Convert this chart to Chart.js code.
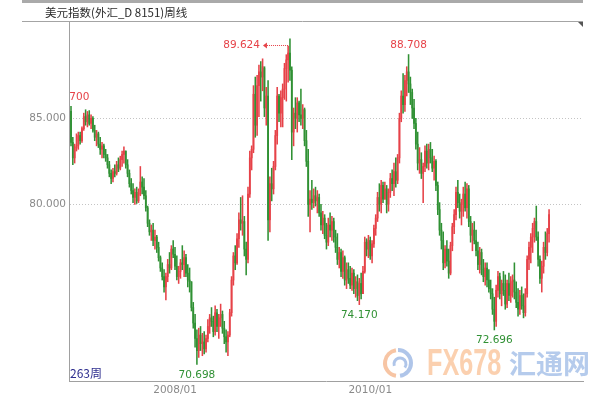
<!DOCTYPE html>
<html>
<head>
<meta charset="utf-8">
<script src="https://cdn.jsdelivr.net/npm/chart.js@4.4.1/dist/chart.umd.min.js"></script>
<style>
  html, body { margin: 0; padding: 0; background: #fff; }
  #wrap { width: 608px; height: 400px; }
</style>
</head>
<body>
<div id="wrap"><canvas id="dxy" width="608" height="400"></canvas></div>
<script>
// 美元指数 周线 — 263 weeks, opens taken as the previous week's close
const title = '美元指数(外汇_D 8151)周线';
const firstOpen = 85.40;

const highs = [
  85.70, 83.90, 83.50, 84.10, 84.20, 84.20, 84.50, 85.30, 85.50, 85.40,
  85.45, 85.20, 85.10, 84.60, 84.30, 84.20, 83.90, 83.60, 83.50, 83.20,
  82.90, 82.50, 82.00, 82.10, 82.30, 82.50, 82.70, 82.80, 83.10, 83.35,
  83.10, 82.60, 82.00, 81.50, 81.20, 80.90, 81.00, 80.90, 82.20, 81.60,
  81.50, 80.80, 79.90, 79.10, 78.80, 78.90, 78.50, 78.20, 77.80, 77.00,
  76.60, 76.20, 76.00, 76.80, 77.20, 77.60, 77.90, 77.50, 77.00, 76.40,
  76.80, 77.60, 77.30, 77.10, 76.50, 76.30, 75.50, 74.30, 73.60, 72.70,
  72.80, 72.90, 72.50, 72.60, 72.40, 73.30, 73.60, 74.00, 73.50, 74.10,
  73.90, 73.60, 74.20, 73.80, 73.20, 72.70, 72.60, 73.90, 75.80, 77.20,
  77.60, 78.30, 79.50, 80.40, 80.50, 79.30, 77.80, 81.00, 83.10, 83.40,
  86.90, 87.40, 87.50, 88.10, 88.30, 88.46, 87.90, 86.80, 87.20, 81.60,
  82.10, 82.50, 84.30, 86.80, 86.40, 86.60, 87.00, 88.20, 88.70, 89.20,
  89.624, 88.00, 85.60, 86.20, 86.20, 86.00, 86.70, 85.80, 85.60, 84.30,
  83.20, 80.80, 81.40, 80.90, 81.00, 80.80, 80.60, 80.00, 79.60, 79.40,
  78.90, 79.20, 79.50, 79.30, 79.20, 78.50, 78.30, 77.50, 77.40, 77.30,
  77.00, 76.60, 76.60, 76.40, 76.30, 76.20, 75.80, 75.90, 75.70, 76.00,
  76.40, 78.10, 78.00, 78.20, 78.10, 77.90, 78.80, 79.40, 80.70, 81.20,
  81.40, 81.30, 81.30, 81.10, 80.90, 81.80, 82.00, 82.40, 82.70, 82.90,
  85.30, 86.60, 87.60, 87.50, 88.00, 88.708, 87.40, 86.70, 86.10, 85.00,
  84.20, 83.30, 83.00, 82.40, 83.40, 83.50, 83.50, 83.60, 83.20, 82.80,
  82.60, 81.30, 80.10, 78.90, 78.40, 77.60, 77.90, 77.40, 77.80, 78.90,
  79.70, 81.00, 81.40, 80.60, 80.30, 81.00, 81.30, 81.20, 81.10, 79.30,
  78.90, 79.00, 78.50, 77.80, 77.50, 77.40, 76.80, 76.60, 76.60, 76.20,
  75.60, 75.10, 74.60, 75.30, 76.10, 76.00, 75.60, 76.10, 75.90, 75.60,
  76.00, 75.80, 75.90, 76.60, 75.50, 75.10, 75.00, 75.20, 74.80, 75.10,
  77.00, 77.80, 78.30, 78.90, 79.20, 79.90, 78.40, 77.00, 76.70, 77.80,
  78.40, 78.60, 79.70
];

const lows = [
  83.40, 82.30, 82.40, 83.10, 83.20, 83.50, 83.60, 84.30, 84.60, 84.50,
  84.60, 84.40, 84.20, 83.70, 83.40, 83.30, 82.90, 82.70, 82.70, 82.50,
  82.10, 81.60, 81.20, 81.30, 81.60, 81.70, 81.90, 82.00, 82.20, 82.40,
  82.10, 81.60, 81.00, 80.60, 80.10, 80.00, 80.05, 80.10, 80.50, 80.60,
  80.30, 79.60, 78.70, 78.20, 77.90, 77.60, 77.40, 77.20, 76.70, 76.10,
  75.60, 74.90, 74.45, 75.50, 76.00, 76.20, 76.90, 76.20, 75.60, 75.40,
  75.70, 76.20, 75.80, 75.80, 75.20, 74.90, 73.80, 72.80, 71.70, 70.698,
  71.10, 71.50, 71.20, 71.30, 71.40, 72.00, 72.50, 72.90, 72.30, 72.40,
  72.60, 72.20, 72.90, 72.50, 71.90, 71.40, 71.20, 72.30, 73.50, 75.30,
  76.20, 76.50, 77.50, 78.50, 78.20, 77.00, 75.90, 76.60, 80.40, 82.00,
  83.00, 83.90, 84.00, 85.10, 86.00, 86.60, 85.10, 84.60, 77.90, 78.40,
  80.20, 80.60, 82.00, 83.50, 84.80, 84.50, 84.50, 86.10, 86.00, 87.10,
  87.20, 82.60, 83.40, 84.40, 84.20, 84.80, 84.60, 84.40, 83.40, 82.20,
  79.30, 78.40, 79.70, 79.80, 79.90, 79.50, 79.30, 78.50, 78.30, 78.00,
  77.40, 77.60, 78.10, 77.90, 77.80, 77.20, 76.50, 76.30, 75.80, 75.70,
  75.30, 75.10, 75.40, 75.10, 75.00, 74.80, 74.60, 74.40, 74.17, 74.50,
  74.80, 76.00, 77.00, 76.90, 76.80, 76.60, 77.50, 78.20, 79.00, 79.60,
  79.50, 80.10, 80.30, 79.50, 79.60, 80.40, 80.80, 80.50, 81.00, 81.20,
  82.40, 84.80, 85.30, 85.40, 86.30, 86.50, 85.80, 85.00, 84.40, 83.20,
  82.00, 81.80, 81.50, 80.10, 81.90, 82.10, 82.00, 82.40, 81.90, 81.40,
  80.80, 79.40, 78.20, 77.40, 76.20, 76.30, 76.40, 75.70, 75.90, 77.30,
  78.30, 79.10, 79.80, 79.20, 78.80, 79.30, 79.60, 79.20, 78.70, 77.80,
  77.30, 77.70, 77.00, 76.20, 76.00, 75.90, 75.50, 75.30, 75.20, 74.90,
  74.50, 73.60, 72.696, 72.90, 74.60, 74.50, 74.10, 74.70, 73.90, 74.00,
  74.40, 74.30, 74.60, 74.50, 74.00, 73.50, 73.60, 73.90, 73.40, 73.50,
  74.60, 76.20, 76.60, 77.20, 77.80, 77.90, 76.40, 75.40, 74.90, 76.00,
  76.80, 77.00, 77.80
];

const closes = [
  83.60, 82.70, 83.30, 83.40, 84.00, 83.70, 84.40, 85.10, 84.80, 85.20,
  84.70, 85.00, 84.30, 83.90, 84.10, 83.50, 83.20, 83.40, 82.90, 82.70,
  82.30, 81.80, 81.50, 81.90, 81.80, 82.30, 82.10, 82.60, 82.90, 83.10,
  82.30, 81.80, 81.20, 80.80, 80.40, 80.70, 80.20, 80.60, 81.30, 81.00,
  80.50, 79.80, 78.90, 78.40, 78.50, 77.90, 78.10, 77.50, 76.90, 76.30,
  75.80, 75.20, 75.80, 76.50, 76.30, 77.40, 77.10, 76.40, 75.80, 76.10,
  76.60, 76.50, 76.90, 76.00, 75.60, 75.50, 74.00, 73.10, 72.20, 71.50,
  72.40, 71.90, 72.00, 71.60, 72.20, 72.90, 73.40, 73.20, 72.60, 73.70,
  72.90, 73.40, 73.60, 72.80, 72.30, 72.00, 72.40, 73.70, 75.60, 77.00,
  76.60, 78.00, 79.10, 78.90, 79.00, 77.40, 76.80, 80.60, 82.70, 83.20,
  86.40, 84.60, 86.90, 87.70, 87.40, 88.00, 85.60, 86.30, 79.10, 81.20,
  80.90, 82.20, 84.00, 86.30, 85.30, 86.20, 86.70, 87.90, 88.40, 88.80,
  87.80, 84.20, 85.30, 85.00, 85.90, 85.20, 85.00, 85.50, 83.70, 82.50,
  80.00, 80.30, 80.10, 80.50, 80.20, 80.40, 79.50, 78.80, 79.20, 78.20,
  77.80, 78.80, 78.50, 79.00, 78.10, 77.50, 76.80, 77.20, 76.10, 76.90,
  75.60, 76.20, 75.70, 75.30, 76.00, 75.10, 75.50, 74.70, 75.40, 74.80,
  76.10, 77.80, 77.40, 77.90, 77.00, 77.70, 78.60, 79.20, 80.40, 80.00,
  81.10, 80.30, 80.90, 80.00, 80.70, 81.50, 81.20, 81.90, 81.40, 82.70,
  85.00, 86.30, 85.80, 87.20, 87.70, 87.00, 86.50, 85.60, 84.70, 83.50,
  82.40, 82.60, 81.80, 82.20, 83.10, 82.40, 83.20, 82.70, 82.10, 82.50,
  81.10, 79.70, 78.50, 77.90, 76.60, 77.40, 76.70, 76.00, 77.60, 78.70,
  79.40, 80.70, 80.10, 79.60, 80.00, 80.60, 79.80, 80.90, 79.00, 78.20,
  78.50, 77.90, 77.30, 76.50, 77.20, 76.20, 75.80, 76.30, 75.60, 75.10,
  74.80, 73.90, 73.20, 75.00, 75.80, 74.80, 75.40, 75.00, 74.20, 75.40,
  74.70, 75.50, 75.60, 74.90, 74.30, 73.90, 74.70, 74.10, 73.70, 74.80,
  76.80, 77.50, 78.10, 78.60, 79.00, 78.10, 76.80, 75.70, 76.40, 77.50,
  77.20, 78.30, 79.40
];

// x axis: week index of each dated tick
const tickIdx = [57, 164];
const tickText = ['2008/01', '2010/01'];
const yTicks = [80, 85];

// marked extremes
const highMarks = [0, 120, 185];
const lowMarks = [69, 158, 232];

const UP = 'rgb(230,66,72)';
const DOWN = 'rgb(48,145,52)';

const opens = closes.map((c, i) => (i === 0 ? firstOpen : closes[i - 1]));
const barColors = closes.map((c, i) => (c >= opens[i] ? UP : DOWN));
const wicks = highs.map((h, i) => ({ x: i, y: [lows[i], h] }));
const bodies = closes.map((c, i) => ({ x: i, y: [Math.min(opens[i], c), Math.max(opens[i], c)] }));

const decor = {
    id: 'decor',
    afterDraw(chart) {
        const { ctx, chartArea: a, scales: { x, y } } = chart;
        ctx.save();

        // header strip, title, underline
        ctx.fillStyle = '#aaaaaa';
        ctx.fillRect(22, 0, a.right - 22, 3);
        ctx.strokeStyle = '#a4a4a4';
        ctx.lineWidth = 1;
        ctx.beginPath();
        ctx.moveTo(22, 21.5);
        ctx.lineTo(a.right, 21.5);
        ctx.stroke();
        ctx.fillStyle = '#555';
        ctx.beginPath();
        ctx.moveTo(a.right - 5, 22);
        ctx.lineTo(a.right, 22);
        ctx.lineTo(a.right, 27);
        ctx.closePath();
        ctx.fill();
        ctx.font = '11.5px "Noto Sans CJK SC"';
        ctx.fillStyle = '#2b2b2b';
        ctx.textBaseline = 'middle';
        ctx.textAlign = 'left';
        ctx.fillText(title, 45, 13);

        // bar count
        ctx.font = '12px "Noto Sans CJK SC"';
        ctx.fillStyle = '#2c2c8e';
        ctx.fillText(highs.length + '周', a.left + 1, a.bottom - 8);

        // watermark
        ctx.globalAlpha = 0.55;
        ctx.lineWidth = 4;
        ctx.strokeStyle = 'rgb(240,150,90)';
        ctx.beginPath();
        ctx.arc(398, 363, 13, Math.PI * 0.55, Math.PI * 1.45);
        ctx.stroke();
        ctx.strokeStyle = 'rgb(110,150,215)';
        ctx.beginPath();
        ctx.arc(398, 363, 13, Math.PI * 1.5, Math.PI * 2.45);
        ctx.stroke();
        ctx.lineWidth = 3;
        ctx.beginPath();
        ctx.arc(400, 364, 6, Math.PI * 0.9, Math.PI * 2.2);
        ctx.stroke();
        ctx.save();
        ctx.translate(427, 364);
        ctx.scale(0.7, 1);
        ctx.font = 'bold 36px "Liberation Sans"';
        ctx.fillStyle = 'rgb(248,170,110)';
        ctx.fillText('FX678', 0, 1);
        ctx.restore();
        ctx.font = 'bold 27px "Noto Sans CJK SC"';
        ctx.fillStyle = 'rgb(120,160,220)';
        ctx.fillText('汇通网', 509, 364);
        ctx.globalAlpha = 1;

        // extreme labels
        ctx.beginPath();
        ctx.rect(a.left + 1, a.top, a.right - a.left, a.bottom - a.top);
        ctx.clip();
        ctx.font = '10.5px "DejaVu Sans"';
        const topIdx = highs.indexOf(Math.max(...highs));
        highMarks.forEach(i => {
            const px = x.getPixelForValue(i);
            const py = y.getPixelForValue(highs[i]);
            ctx.fillStyle = UP;
            if (i === topIdx) {
                const ly = py + 6.5;
                ctx.textAlign = 'right';
                ctx.fillText(highs[i].toFixed(3), px - 30, ly);
                ctx.strokeStyle = UP;
                ctx.lineWidth = 1;
                ctx.setLineDash([1, 1]);
                ctx.beginPath();
                ctx.moveTo(px - 2, Math.round(ly) + 0.5);
                ctx.lineTo(px - 24, Math.round(ly) + 0.5);
                ctx.stroke();
                ctx.setLineDash([]);
                ctx.beginPath();
                ctx.moveTo(px - 27, Math.round(ly) + 0.5);
                ctx.lineTo(px - 23, Math.round(ly) - 2.5);
                ctx.lineTo(px - 23, Math.round(ly) + 3.5);
                ctx.closePath();
                ctx.fill();
            } else {
                ctx.textAlign = 'center';
                ctx.fillText(highs[i].toFixed(3), px, py - 9.5);
            }
        });
        lowMarks.forEach(i => {
            const px = x.getPixelForValue(i);
            const py = y.getPixelForValue(lows[i]);
            ctx.fillStyle = DOWN;
            ctx.textAlign = 'center';
            ctx.fillText(lows[i].toFixed(3), px, py + 10.5);
        });
        ctx.restore();
    }
};

new Chart(document.getElementById('dxy'), {
    type: 'bar',
    data: {
        datasets: [
            { data: wicks, backgroundColor: barColors, barThickness: 0.9, grouped: false },
            { data: bodies, backgroundColor: barColors, barThickness: 1.15, grouped: false, minBarLength: 1 }
        ]
    },
    options: {
        responsive: false,
        animation: false,
        events: [],
        layout: { padding: { top: 22, right: 25, left: 0, bottom: 0 } },
        plugins: { legend: { display: false }, tooltip: { enabled: false } },
        scales: {
            x: {
                type: 'linear',
                offset: false,
                min: -1.1,
                max: 280.6,
                afterBuildTicks: s => { s.ticks = tickIdx.map(v => ({ value: v })); },
                afterFit: s => { s.height = 19; },
                ticks: {
                    autoSkip: false,
                    maxRotation: 0,
                    padding: 3,
                    color: '#8a8a8a',
                    font: { family: 'DejaVu Sans', size: 10.5 },
                    callback: v => tickText[tickIdx.indexOf(v)]
                },
                grid: { display: false, drawTicks: false, offset: false },
                border: { color: '#a0a0a0' }
            },
            y: {
                min: 69.73,
                max: 90.60,
                afterBuildTicks: s => { s.ticks = yTicks.map(v => ({ value: v })); },
                afterFit: s => { s.width = 69; },
                ticks: {
                    padding: 3,
                    color: '#8a8a8a',
                    font: { family: 'DejaVu Sans', size: 10.5 },
                    callback: v => v.toFixed(3)
                },
                grid: { color: '#c4c4c4', drawTicks: false },
                border: { color: '#a0a0a0', dash: [1, 2] }
            }
        }
    },
    plugins: [decor]
});
</script>
</body>
</html>
